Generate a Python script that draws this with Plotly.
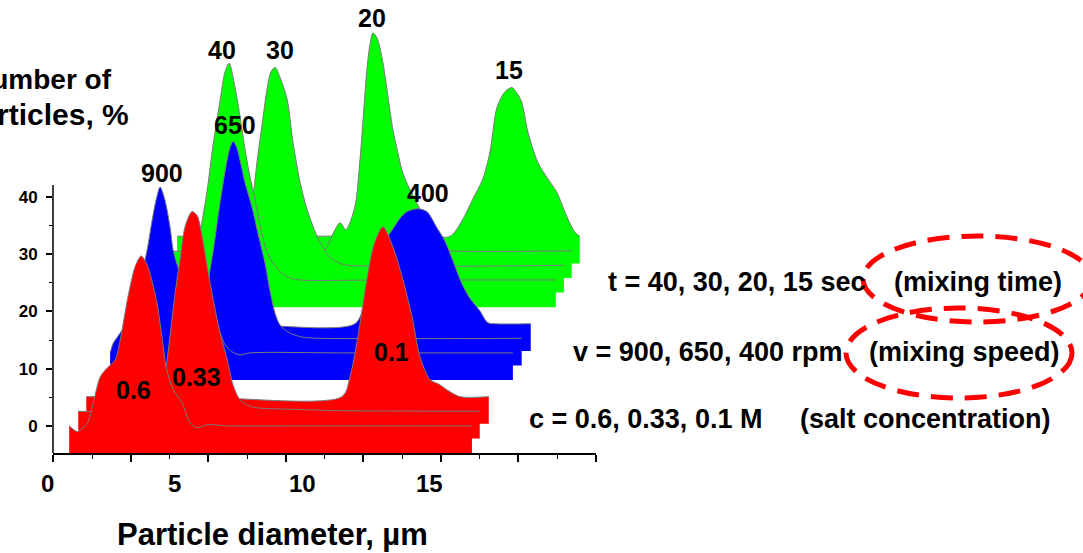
import plotly.graph_objects as go

# ---------------- data (diameter in µm, number of particles in %) ----------------
# salt concentration series (red)
c06_x = [0.86, 1.18, 1.57, 1.80, 2.08, 2.35, 2.66, 2.86, 3.17, 3.45, 3.68, 3.88, 4.03, 4.31, 4.54, 4.66, 4.94, 5.29, 5.60, 5.88, 6.27, 7.05, 10.0, 16.65]
c06_y = [0, -1.0, 0.5, 4.0, 8.6, 10.1, 11.5, 15.0, 22.7, 27.9, 29.7, 28.5, 26.6, 21.3, 14.0, 10.3, 6.3, 4.0, 0.5, -0.35, 0.2, 0, 0, 0]

c033_x = [0.89, 3.32, 3.71, 4.02, 4.22, 4.41, 4.53, 4.69, 4.88, 5.08, 5.35, 5.55, 5.75, 5.94, 6.18, 6.45, 6.73, 6.96, 7.23, 7.55, 7.90, 9.59, 11.15, 16.63]
c033_y = [0, 0, 0.6, 2.4, 4.6, 10.2, 14.8, 20.7, 26.5, 32.3, 34.9, 34.2, 30.5, 25.4, 19.5, 13.7, 9.0, 4.6, 2.0, 1.0, 0.6, 0.3, 0.1, 0]

c01_x = [0.88, 5.0, 10.90, 11.22, 11.53, 11.88, 12.16, 12.51, 12.90, 13.29, 13.65, 13.96, 14.35, 14.74, 15.02, 15.53, 16.66]
c01_y = [0, 0, 0, 3.5, 10.5, 20.5, 26.6, 29.7, 26.2, 20.5, 14.0, 7.0, 3.0, 2.1, 1.2, 0, 0]

# mixing speed series (blue)
v900_x = [0.84, 0.96, 1.16, 1.43, 1.70, 2.02, 2.29, 2.49, 2.64, 2.80, 2.99, 3.19, 3.31, 3.47, 3.66, 3.98, 4.37, 4.76, 5.07, 5.35, 5.62, 5.93, 6.33, 10.0, 16.63]
v900_y = [0, 1.7, 3.0, 4.9, 8.4, 12.8, 18.0, 23.3, 26.7, 29.0, 26.7, 22.0, 18.0, 15.4, 13.1, 11.4, 9.3, 7.5, 4.4, 1.4, 0.2, -0.35, 0, 0, 0]

v650_x = [0.87, 3.26, 3.73, 4.04, 4.24, 4.43, 4.59, 4.75, 4.90, 5.10, 5.22, 5.34, 5.49, 5.61, 5.81, 6.08, 6.31, 6.59, 6.78, 6.98, 7.18, 7.57, 8.08, 8.74, 16.65]
v650_y = [0, 0.5, 2.0, 3.5, 6.6, 11.9, 16.3, 21.5, 25.9, 31.1, 33.4, 34.4, 33.2, 31.1, 27.1, 22.9, 18.4, 13.1, 8.4, 4.4, 2.3, 0.9, 0.2, 0, 0]

v400_x = [0.86, 5.0, 9.79, 10.18, 10.57, 10.96, 11.28, 11.55, 11.83, 12.26, 12.61, 13.00, 13.31, 13.63, 13.98, 14.29, 14.68, 14.99, 15.27, 16.68]
v400_y = [0, 0, 0, 4.0, 10.3, 14.5, 16.6, 18.4, 19.6, 20.1, 19.6, 16.8, 14.5, 11.0, 7.0, 4.5, 2.3, 0.2, 0, 0]

# mixing time series (green)
t40_x = [0.86, 2.16, 2.47, 2.74, 3.02, 3.25, 3.53, 3.72, 3.88, 4.11, 4.31, 4.51, 4.70, 4.90, 5.17, 5.48, 5.88, 6.27, 6.66, 10.0, 16.69]
t40_y = [0, 0, 2.0, 8.2, 15.7, 23.6, 31.5, 36.4, 37.9, 33.7, 28.5, 22.7, 18.0, 14.0, 7.9, 3.8, 1.4, 0.35, 0, 0, 0]

t30_x = [0.85, 3.60, 3.98, 4.30, 4.50, 4.66, 4.85, 5.04, 5.20, 5.36, 5.55, 5.83, 6.06, 6.34, 6.61, 7.00, 7.24, 7.51, 7.90, 8.29, 16.68]
t30_y = [0, 0, 1.0, 8.0, 12.4, 18.5, 24.7, 30.8, 33.9, 34.6, 32.9, 29.0, 21.5, 14.5, 9.8, 5.1, 3.1, 1.4, 0.35, 0, 0]

t20_x = [0.88, 6.91, 7.30, 7.58, 7.81, 8.16, 8.36, 8.48, 8.63, 8.75, 8.87, 9.03, 9.26, 9.46, 9.65, 9.85, 10.04, 10.32, 10.63, 10.95, 11.26, 11.57, 11.89, 16.66]
t20_y = [0, 0, 3.0, 4.9, 3.7, 7.7, 15.9, 22.9, 31.6, 36.0, 38.1, 37.2, 32.9, 26.9, 21.2, 17.1, 13.6, 10.7, 8.0, 5.4, 2.8, 0.3, 0, 0]

t15_x = [0.865, 6.0, 11.17, 11.44, 11.68, 12.07, 12.46, 12.85, 13.13, 13.40, 13.71, 13.99, 14.22, 14.38, 14.62, 15.01, 15.36, 15.75, 16.14, 16.46, 16.65]
t15_y = [0, 0, 0, -0.2, 0.35, 2.97, 6.5, 10.0, 14.7, 22.4, 25.2, 26.0, 24.8, 23.4, 18.2, 12.9, 10.3, 7.7, 3.5, 0.7, 0]

# waterfall position of each curve (0 = front)
series = [  # (x, y, depth step, colour) drawn back to front
    (t15_x, t15_y, 13, "#00FF00"),
    (t20_x, t20_y, 12, "#00FF00"),
    (t30_x, t30_y, 11, "#00FF00"),
    (t40_x, t40_y, 10, "#00FF00"),
    (v400_x, v400_y, 7, "#0000FF"),
    (v650_x, v650_y, 6, "#0000FF"),
    (v900_x, v900_y, 5, "#0000FF"),
    (c01_x, c01_y, 2, "#FF0000"),
    (c033_x, c033_y, 1, "#FF0000"),
    (c06_x, c06_y, 0, "#FF0000"),
]

y_tick_vals = [0, 10, 20, 30, 40]
y_minor_vals = [5, 15, 25, 35]
x_tick_labels = ["0", "5", "10", "15"]
x_tick_label_pos = [0, 5, 10, 15]

peak_labels = ["40", "30", "20", "15", "650", "900", "400", "0.6", "0.33", "0.1"]
peak_label_px = [(222, 50), (280, 50), (372, 18), (509, 70), (235, 125), (162, 173),
                 (428, 193), (133, 390), (196, 377), (391, 352)]

# ---------------- layout geometry ----------------
FIG_W, FIG_H = 1083, 553
L, R, T, B = 53, 487, 0, 100
PW, PH = FIG_W - L - R, FIG_H - T - B
DX, DY, DEPTH = 0.325, 2.55, 4.75          # waterfall shift per step, block depth
X_RANGE = [0.225, 21.514]
Y_RANGE = [-DEPTH, -DEPTH + PH / 5.72]
Y_AXIS_TOP = 42.1

def pxx(px):
    return (px - L) / PW

def pxy(py):
    return (T + PH - py) / PH

def datax_to_paper(v):
    return (v - X_RANGE[0]) / (X_RANGE[1] - X_RANGE[0])

FONT = "Liberation Sans, Arial, sans-serif"

fig = go.Figure()
for xs, ys, k, col in series:
    sx = [v + k * DX for v in xs]
    sy = [v + k * DY for v in ys]
    bottom = k * DY - DEPTH
    fig.add_trace(go.Scatter(x=[sx[0], sx[-1]], y=[bottom, bottom], mode="lines",
                             line=dict(width=0, color=col), hoverinfo="skip", showlegend=False))
    fig.add_trace(go.Scatter(x=sx, y=sy, mode="lines", fill="tonexty", fillcolor=col,
                             line=dict(color="#7a7a7a", width=1, shape="spline", smoothing=0.8),
                             hoverinfo="skip", showlegend=False))

a0, a1 = 0.235, 21.504
maj = [a0 + i * (a1 - a0) / 7 for i in range(8)]
mnr = [(maj[i] + maj[i + 1]) / 2 for i in range(7)]

fig.update_xaxes(range=X_RANGE, showgrid=False, zeroline=False,
                 showline=True, linecolor="black", linewidth=1.5,
                 tickmode="array", tickvals=maj, ticks="outside", ticklen=7, tickwidth=1.5,
                 tickcolor="black", showticklabels=False,
                 minor=dict(tickmode="array", tickvals=mnr, ticks="outside", ticklen=4,
                            tickwidth=1.2, tickcolor="black"))
fig.update_yaxes(range=Y_RANGE, showgrid=False, zeroline=False, showline=False,
                 tickmode="array", tickvals=y_tick_vals, ticks="outside", ticklen=6,
                 tickwidth=1.5, tickcolor="black", ticklabelstandoff=5,
                 tickfont=dict(family=FONT, size=17, color="black", weight="bold"),
                 minor=dict(tickmode="array", tickvals=y_minor_vals, ticks="outside",
                            ticklen=3, tickwidth=1.2, tickcolor="black"))

shapes = [
    dict(type="line", xref="paper", yref="y", x0=0, x1=0, y0=Y_RANGE[0], y1=Y_AXIS_TOP,
         line=dict(color="black", width=1.5)),
    dict(type="circle", xref="paper", yref="paper", x0=pxx(863), x1=pxx(1092),
         y0=pxy(322), y1=pxy(236), line=dict(color="#FF0000", width=5, dash="22px,12px")),
    dict(type="circle", xref="paper", yref="paper", x0=pxx(846), x1=pxx(1072),
         y0=pxy(398), y1=pxy(308), line=dict(color="#FF0000", width=5, dash="22px,12px")),
]

ann = []
def text(t, px, py, size, xanchor="center"):
    ann.append(dict(text=t, xref="paper", yref="paper", x=pxx(px), y=pxy(py),
                    xanchor=xanchor, yanchor="middle", showarrow=False,
                    font=dict(family=FONT, size=size, color="black", weight="bold")))

for lab, (px, py) in zip(peak_labels, peak_label_px):
    text(lab, px, py, 25)

for lab, pos in zip(x_tick_labels, x_tick_label_pos):
    ann.append(dict(text=lab, xref="paper", yref="paper", x=datax_to_paper(pos), y=pxy(484),
                    xanchor="center", yanchor="middle", showarrow=False,
                    font=dict(family=FONT, size=24, color="black", weight="bold")))

text("Particle diameter, µm", 272, 534, 31)
text("Number of", 114, 79, 28, xanchor="right")
text("particles, %", 131, 115, 30, xanchor="right")

text("t = 40, 30, 20, 15 sec", 606, 282, 27, xanchor="left")
text("(mixing time)", 892, 282, 27, xanchor="left")
text("v = 900, 650, 400 rpm", 571, 352, 27, xanchor="left")
text("(mixing speed)", 867, 352, 27, xanchor="left")
text("c = 0.6, 0.33, 0.1 M", 527, 419, 27, xanchor="left")
text("(salt concentration)", 798, 419, 27, xanchor="left")

fig.update_layout(width=FIG_W, height=FIG_H, margin=dict(l=L, r=R, t=T, b=B, pad=0),
                  paper_bgcolor="white", plot_bgcolor="white", showlegend=False,
                  shapes=shapes, annotations=ann)

fig.write_html("out.html", config={"displayModeBar": False},
               post_script="document.body.style.margin='0';")
